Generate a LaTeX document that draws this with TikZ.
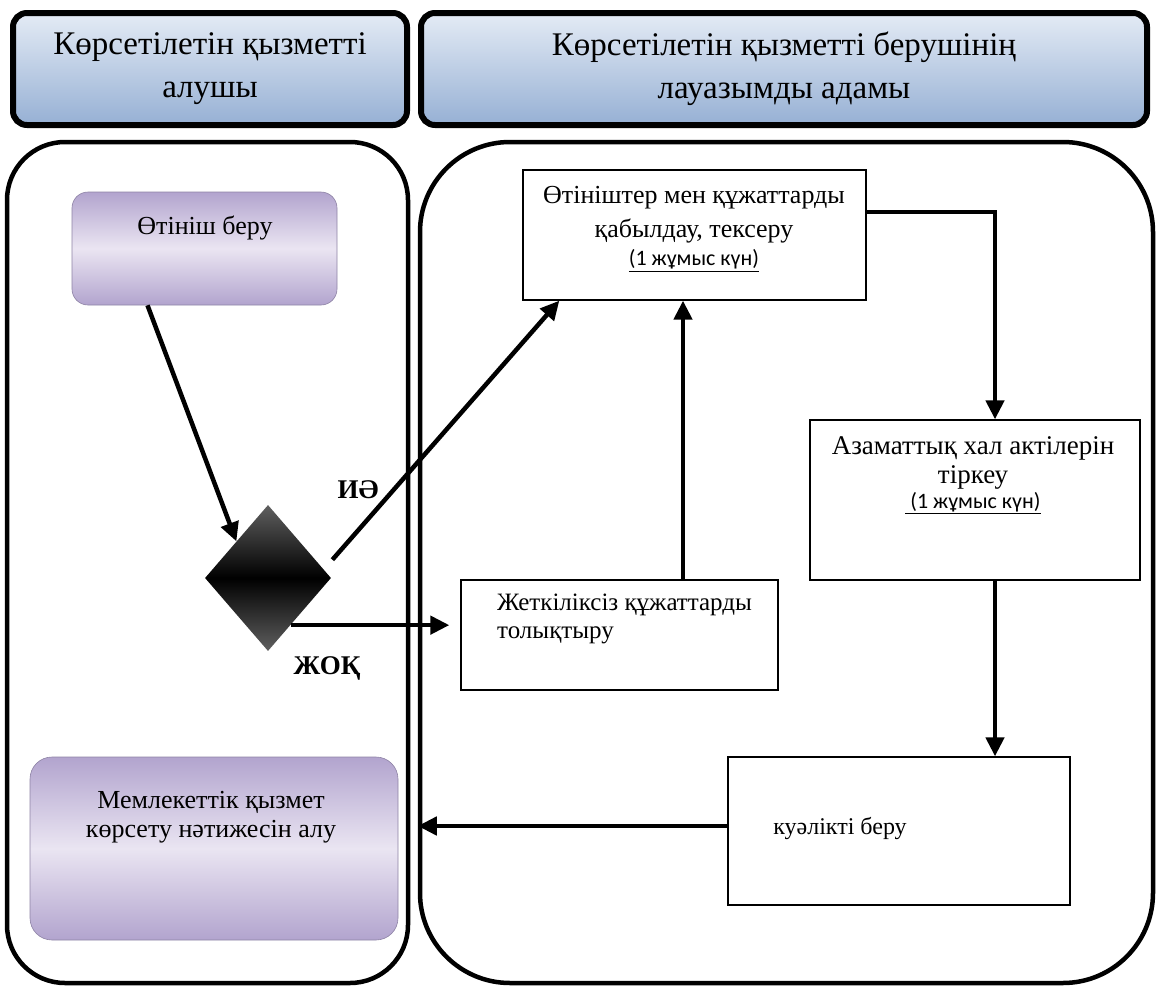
\documentclass[tikz,border=0pt]{standalone}
\usepackage{fontspec}
\setmainfont{Liberation Serif}
\newfontfamily\daysfont{Carlito}
\usetikzlibrary{shapes.geometric,positioning,arrows.meta,calc}
\definecolor{hdrtop}{RGB}{228,235,245}
\definecolor{hdrbot}{RGB}{150,176,212}
\definecolor{purpedge}{RGB}{178,164,206}
\definecolor{purpmid}{RGB}{234,229,242}
\definecolor{diaedge}{RGB}{95,95,95}
\newcommand{\workday}[1]{{\daysfont\fontsize{22}{26}\selectfont\underline{#1}}}

\begin{document}
\begin{tikzpicture}[x=1pt,y=-1pt,
  header/.style={draw=black, line width=6pt, rounded corners=14pt, top color=hdrtop, bottom color=hdrbot, align=center, font=\fontsize{33}{43}\selectfont},
  lane/.style={draw=black, line width=4.5pt},
  purpbox/.style={draw=purpedge!80!black, line width=0.6pt, rounded corners=16pt, top color=purpedge, bottom color=purpedge, middle color=purpmid},
  procbox/.style={draw=black, line width=1.3pt, fill=white},
  boxtext/.style={align=center, inner sep=0pt, font=\fontsize{26}{30}\selectfont},
  flow/.style={line width=4.5pt, -{Triangle[length=19pt,width=18pt]}},
  answer/.style={inner sep=0pt, font=\bfseries\fontsize{27}{30}\selectfont}]
\useasboundingbox (0,0) rectangle (1157,996);

\node[header, minimum width=394pt, minimum height=112pt] (hdrL) at (210,69) {Көрсетілетін қызметті\\алушы};
\node[header, minimum width=726pt, minimum height=112pt] (hdrR) at (784,69) {Көрсетілетін қызметті берушінің\\лауазымды адамы};

\node[lane, rounded corners=58pt, minimum width=401pt, minimum height=841pt] (laneL) at (207.5,562.5) {};
\node[lane, rounded corners=90pt, minimum width=733pt, minimum height=841pt] (laneR) at (786.5,562.5) {};

\node[purpbox, minimum width=265pt, minimum height=113pt] (apply) at (204.5,248.5) {};
\node[boxtext] (apply-t) at (205,228) {Өтініш беру};

\node[diamond, inner sep=0pt, minimum width=126pt, minimum height=146pt, top color=diaedge, bottom color=diaedge, middle color=black] (decide) at (268,578) {};

\node[procbox, minimum width=343pt, minimum height=130pt] (check) at (694.5,235) {};
\node[boxtext, font=\fontsize{26}{34}\selectfont] (check-t) at (694,229) {Өтініштер мен құжаттарды\\қабылдау, тексеру\\[-6pt]\workday{(1 жұмыс күн)}};

\node[procbox, minimum width=317pt, minimum height=110pt] (supplement) at (619.5,635) {};
\node[boxtext, align=left, anchor=north west, font=\fontsize{25}{28}\selectfont] (supplement-t) at (497,594) {Жеткіліксіз құжаттарды\\толықтыру};

\node[procbox, minimum width=330pt, minimum height=160pt] (register) at (975,500) {};
\node[boxtext, font=\fontsize{27}{29}\selectfont] (register-t) at (973,475) {Азаматтық хал актілерін\\тіркеу\\[-4pt]\workday{\ (1 жұмыс күн)}};

\node[procbox, minimum width=342pt, minimum height=148pt] (issue) at (899,831) {};
\node[boxtext, font=\fontsize{24}{28}\selectfont] (issue-t) at (840,828) {куәлікті беру};

\node[purpbox, rounded corners=22pt, minimum width=368pt, minimum height=183pt] (result) at (214,848.5) {};
\node[boxtext, font=\fontsize{26}{29}\selectfont] (result-t) at (211,817) {Мемлекеттік қызмет\\көрсету нәтижесін алу};

\node[answer] (yes) at (358,490) {ИӘ};
\node[answer] (no) at (327,668) {ЖОҚ};

\coordinate (yes-out) at ($(decide.east)!0.25!(decide.north)+(17,0)$);
\coordinate (no-out) at ($(decide.south)!0.356!(decide.east)$);

\draw[flow] ([xshift=-57pt]apply.south) -- (decide.north west);
\draw[flow] (yes-out) -- ([xshift=37pt]check.south west);
\draw[flow, shorten >=11pt] (no-out) -- (no-out -| supplement.west);
\draw[flow] ([xshift=63.5pt]supplement.north) -- ([xshift=63.5pt]supplement.north |- check.south);
\draw[flow] ([yshift=23pt]check.east) -| ([xshift=20pt]register.north);
\draw[flow] ([xshift=20pt]register.south) -- ([xshift=20pt]register.south |- issue.north);
\draw[flow] ([yshift=5pt]issue.west) -- ([yshift=5pt]issue.west -| laneR.west);
\end{tikzpicture}
\end{document}
